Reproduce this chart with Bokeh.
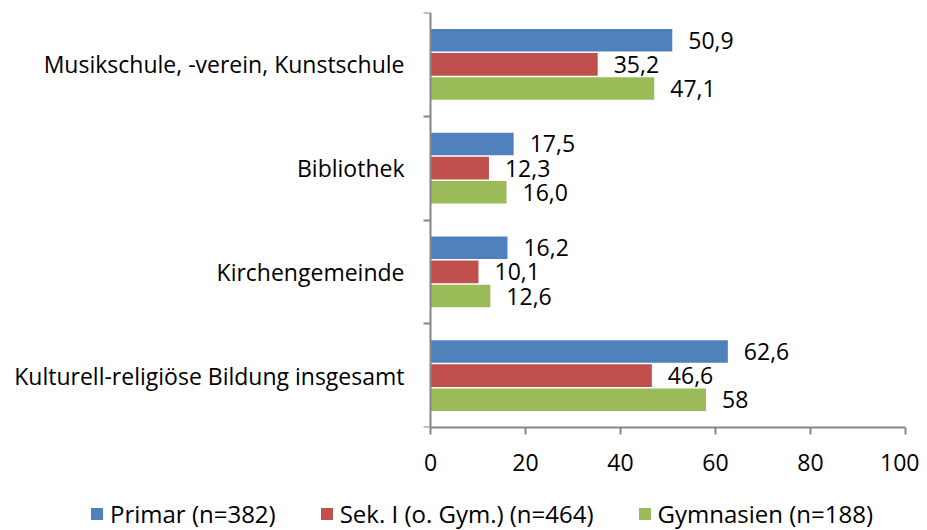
from bokeh.plotting import figure
from bokeh.layouts import column
from bokeh.models import FixedTicker, Legend, LegendItem, Range1d, ColumnDataSource
from bokeh.core.properties import value
from bokeh.embed import file_html
from bokeh.resources import INLINE

categories = ["Musikschule, -verein, Kunstschule", "Bibliothek", "Kirchengemeinde",
              "Kulturell-religiöse Bildung insgesamt"]
series_names = ["Primar (n=382)", "Sek. I (o. Gym.) (n=464)", "Gymnasien (n=188)"]
primar = [50.9, 17.5, 16.2, 62.6]
sek1 = [35.2, 12.3, 10.1, 46.6]
gymnasien = [47.1, 16.0, 12.6, 58]
primar_labels = ["50,9", "17,5", "16,2", "62,6"]
sek1_labels = ["35,2", "12,3", "10,1", "46,6"]
gymnasien_labels = ["47,1", "16,0", "12,6", "58"]
x_ticks = [0, 20, 40, 60, 80, 100]

colors = ["#4F81BD", "#C0504D", "#9BBB59"]
FONT = "Open Sans"
FS = "23px"
AXIS_COLOR = "#868686"

n = len(categories)
centers = [n - 0.5 - i for i in range(n)]
offsets = [0.233, 0.0, -0.233]
bar_h = 0.218

# the frame spans the full width; the value axis starts 430 px from the left
W, RIGHT_PAD, AXIS_LEFT_PX = 919, 14, 430
x_max = 100
x_min = -x_max * AXIS_LEFT_PX / (W - RIGHT_PAD - AXIS_LEFT_PX)

p = figure(width=W, height=490, output_backend="svg", toolbar_location=None,
           x_range=Range1d(x_min, x_max), y_range=Range1d(0, n),
           min_border_left=0, min_border_right=RIGHT_PAD, min_border_top=12, min_border_bottom=63)
p.outline_line_color = None
p.xgrid.visible = False
p.ygrid.visible = False
p.background_fill_color = "white"
p.border_fill_color = "white"

for vals, labs, off, col in zip([primar, sek1, gymnasien],
                                [primar_labels, sek1_labels, gymnasien_labels],
                                offsets, colors):
    src = ColumnDataSource(dict(y=[c + off for c in centers], v=vals, t=labs))
    p.hbar(y="y", left=0, right="v", height=bar_h, source=src,
           fill_color=col, line_color=None)
    p.text(x="v", y="y", text="t", source=src, x_offset=16,
           text_baseline="middle", text_align="left",
           text_font=value(FONT), text_font_size=FS, text_color="black")

# x axis
xa = p.xaxis[0]
xa.ticker = FixedTicker(ticks=x_ticks)
xa.bounds = (0, x_max)
xa.major_tick_out = 7
xa.major_tick_in = 0
xa.minor_tick_out = 0
xa.minor_tick_in = 0
xa.axis_line_color = AXIS_COLOR
xa.axis_line_width = 2
xa.major_tick_line_color = AXIS_COLOR
xa.major_tick_line_width = 2
xa.major_label_text_font = FONT
xa.major_label_text_font_size = FS
xa.major_label_text_color = "black"
xa.major_label_standoff = 19

# y axis, pinned at x = 0
ya = p.yaxis[0]
ya.fixed_location = 0
ya.ticker = FixedTicker(ticks=centers, minor_ticks=list(range(n + 1)))
ya.major_label_overrides = {c: cat for c, cat in zip(centers, categories)}
ya.major_tick_out = 0
ya.major_tick_in = 0
ya.minor_tick_out = 7
ya.minor_tick_in = 0
ya.minor_tick_line_color = AXIS_COLOR
ya.minor_tick_line_width = 2
ya.axis_line_color = AXIS_COLOR
ya.axis_line_width = 2
ya.major_label_text_font = FONT
ya.major_label_text_font_size = FS
ya.major_label_text_color = "black"
ya.major_label_standoff = 19

# legend figure below the chart
lf = figure(width=W, height=40, output_backend="svg", toolbar_location=None,
            x_range=Range1d(0, 1), y_range=Range1d(0, 1),
            x_axis_type=None, y_axis_type=None,
            min_border_left=0, min_border_right=0, min_border_top=0, min_border_bottom=0)
lf.outline_line_color = None
lf.xgrid.visible = False
lf.ygrid.visible = False
items = []
for s, col in zip(series_names, colors):
    r = lf.hbar(y=[-5], left=[-5], right=[-4], height=0.5, fill_color=col, line_color=None)
    items.append(LegendItem(label=s, renderers=[r]))
legend = Legend(items=items, orientation="horizontal", location=(89, 0))
legend.glyph_width = 15
legend.glyph_height = 15
legend.label_standoff = 6
legend.spacing = 43
legend.padding = 0
legend.margin = 0
legend.border_line_color = None
legend.background_fill_alpha = 0
legend.label_text_font = FONT
legend.label_text_font_size = "24px"
legend.label_text_color = "black"
lf.add_layout(legend, "center")

open("out.html", "w").write(file_html(column(p, lf, spacing=0), INLINE))
